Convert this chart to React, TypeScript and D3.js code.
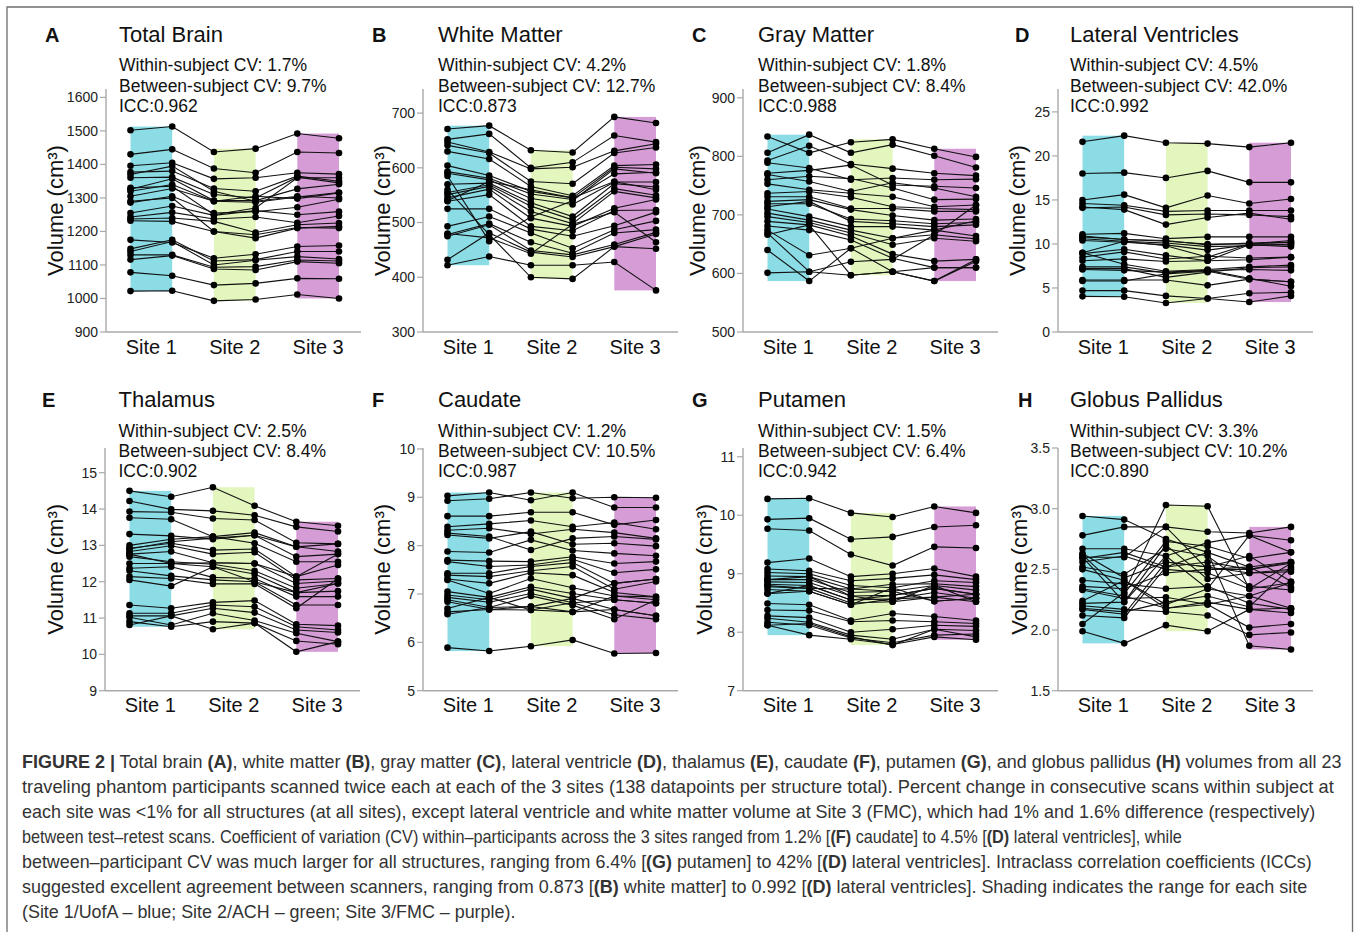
import React from "react";
import * as d3 from "d3";

// ---------- data (23 participants x 6 scans: Site1 A/B, Site2 A/B, Site3 A/B) ----------
const siteNames = ["Site 1", "Site 2", "Site 3"];

const totalBrain = [
  [1502, 1513, 1437, 1447, 1492, 1478],
  [1430, 1445, 1388, 1375, 1437, 1434],
  [1396, 1405, 1357, 1360, 1375, 1371],
  [1377, 1380, 1328, 1320, 1365, 1350],
  [1360, 1362, 1310, 1300, 1362, 1345],
  [1326, 1357, 1292, 1292, 1327, 1341],
  [1320, 1340, 1290, 1287, 1303, 1316],
  [1305, 1328, 1290, 1305, 1298, 1315],
  [1286, 1305, 1255, 1259, 1272, 1296],
  [1255, 1276, 1248, 1262, 1250, 1259],
  [1243, 1257, 1237, 1243, 1226, 1246],
  [1237, 1240, 1230, 1197, 1220, 1225],
  [1232, 1230, 1200, 1190, 1212, 1210],
  [1175, 1167, 1120, 1132, 1155, 1158],
  [1148, 1175, 1112, 1116, 1140, 1140],
  [1140, 1170, 1100, 1114, 1125, 1118],
  [1130, 1130, 1093, 1095, 1115, 1112],
  [1116, 1128, 1088, 1085, 1110, 1105],
  [1078, 1068, 1040, 1045, 1060, 1059],
  [1022, 1023, 993, 997, 1012, 1000],
  [1290, 1300, 1200, 1180, 1210, 1215],
  [1370, 1395, 1320, 1290, 1305, 1300],
  [1330, 1335, 1250, 1270, 1360, 1360],
];

const whiteMatter = [
  [671, 677, 632, 628, 693, 682],
  [652, 662, 600, 610, 659, 647],
  [647, 629, 598, 601, 631, 644],
  [641, 627, 575, 571, 627, 637],
  [630, 616, 566, 549, 604, 606],
  [604, 586, 557, 545, 601, 598],
  [593, 581, 552, 542, 589, 592],
  [590, 578, 544, 533, 574, 574],
  [570, 572, 536, 511, 571, 565],
  [555, 569, 530, 505, 562, 550],
  [551, 566, 520, 498, 557, 545],
  [545, 561, 508, 493, 526, 542],
  [539, 551, 493, 485, 522, 523],
  [525, 525, 488, 475, 494, 519],
  [493, 511, 481, 453, 487, 503],
  [478, 498, 464, 444, 481, 487],
  [475, 496, 449, 441, 460, 482],
  [432, 481, 446, 437, 456, 479],
  [422, 438, 422, 422, 428, 376],
  [480, 472, 443, 497, 519, 464],
  [560, 478, 400, 397, 456, 452],
  [585, 466, 510, 540, 598, 590],
  [540, 575, 560, 545, 575, 560],
];

const grayMatter = [
  [834, 806, 824, 829, 813, 799],
  [806, 837, 806, 820, 801, 781],
  [793, 818, 787, 779, 771, 767],
  [789, 780, 760, 763, 760, 761],
  [771, 776, 785, 751, 749, 746],
  [769, 757, 740, 755, 746, 731],
  [760, 766, 762, 746, 726, 727],
  [753, 743, 737, 731, 714, 717],
  [737, 740, 730, 714, 711, 709],
  [731, 731, 711, 711, 706, 706],
  [723, 726, 709, 699, 691, 693],
  [719, 719, 693, 690, 685, 687],
  [714, 723, 689, 685, 680, 683],
  [710, 697, 680, 680, 674, 664],
  [703, 691, 674, 660, 666, 659],
  [697, 687, 669, 649, 660, 655],
  [689, 683, 664, 633, 621, 624],
  [681, 674, 657, 626, 610, 610],
  [674, 631, 643, 603, 587, 621],
  [669, 603, 620, 624, 666, 717],
  [666, 683, 597, 603, 610, 610],
  [640, 587, 643, 660, 674, 690],
  [601, 603, 597, 603, 587, 624],
];

const lateralVentricles = [
  [21.6, 22.3, 21.5, 21.4, 21.0, 21.5],
  [18.0, 18.1, 17.5, 18.3, 17.0, 17.0],
  [15.0, 15.6, 14.1, 15.5, 14.6, 15.1],
  [14.6, 14.4, 13.7, 13.8, 13.8, 13.8],
  [14.1, 14.2, 13.3, 13.4, 13.3, 13.1],
  [14.2, 13.9, 12.2, 13.0, 13.5, 12.8],
  [11.1, 11.2, 10.6, 10.8, 10.8, 10.8],
  [10.8, 10.5, 10.3, 10.0, 10.0, 10.4],
  [10.6, 10.3, 10.1, 9.7, 9.8, 10.0],
  [10.4, 10.2, 9.9, 9.3, 9.9, 9.7],
  [9.0, 10.3, 9.8, 8.5, 10.0, 10.2],
  [8.9, 9.4, 8.7, 8.1, 9.9, 9.9],
  [8.5, 9.1, 8.3, 8.6, 8.4, 8.5],
  [8.1, 8.3, 8.0, 8.1, 8.2, 8.5],
  [9.0, 7.7, 6.9, 7.1, 7.4, 7.6],
  [7.4, 7.4, 6.7, 7.0, 7.1, 7.0],
  [7.2, 7.2, 6.2, 6.8, 7.3, 7.4],
  [7.1, 7.0, 6.8, 7.0, 6.1, 5.2],
  [5.9, 5.9, 5.9, 5.3, 6.0, 5.7],
  [4.7, 4.7, 4.1, 3.8, 4.4, 4.5],
  [4.05, 4.0, 3.3, 3.8, 3.4, 4.1],
  [10.9, 10.5, 10.4, 9.9, 10.1, 10.2],
  [5.8, 5.8, 6.6, 6.9, 6.0, 5.7],
];

const thalamus = [
  [14.5, 14.34, 14.6, 14.09, 13.65, 13.54],
  [14.22, 13.99, 13.95, 13.83, 13.51, 13.38],
  [13.93, 13.91, 13.74, 13.7, 13.07, 13.04],
  [13.76, 13.72, 13.24, 13.35, 12.96, 12.83],
  [13.31, 13.26, 13.17, 13.28, 12.69, 12.76],
  [13.0, 13.17, 13.24, 13.06, 12.55, 12.55],
  [12.92, 13.06, 12.87, 12.9, 12.14, 12.46],
  [12.83, 12.99, 12.76, 12.81, 12.05, 12.09],
  [12.76, 12.83, 12.52, 12.5, 11.95, 12.02],
  [12.69, 12.55, 12.48, 12.3, 11.82, 11.95],
  [12.5, 12.5, 12.41, 12.21, 11.7, 11.74],
  [12.37, 12.41, 12.12, 12.09, 11.59, 11.59],
  [12.3, 12.16, 12.05, 12.0, 11.36, 11.36],
  [12.14, 12.09, 11.94, 11.94, 11.27, 12.09],
  [12.05, 11.88, 12.41, 12.0, 11.7, 11.95],
  [11.36, 11.27, 11.43, 11.48, 10.83, 10.79],
  [11.13, 11.13, 11.36, 11.31, 10.76, 10.67],
  [11.06, 11.06, 11.27, 11.15, 10.67, 10.6],
  [11.02, 10.81, 11.13, 10.93, 10.58, 10.35],
  [10.9, 10.76, 10.9, 10.86, 10.37, 10.28],
  [10.81, 11.06, 10.69, 10.86, 10.07, 10.35],
  [12.76, 12.5, 12.52, 12.5, 12.14, 12.76],
  [12.9, 13.1, 13.2, 13.28, 12.96, 13.04],
];

const caudate = [
  [9.03, 9.1, 8.94, 9.1, 8.79, 8.79],
  [8.93, 8.97, 9.1, 8.98, 9.0, 8.99],
  [8.61, 8.61, 8.69, 8.69, 8.43, 8.53],
  [8.39, 8.45, 8.52, 8.39, 8.48, 8.34],
  [8.32, 8.36, 8.24, 8.34, 8.27, 8.15],
  [8.26, 8.19, 7.91, 8.15, 8.19, 8.13],
  [8.22, 8.15, 8.29, 8.03, 8.05, 7.99],
  [7.88, 7.86, 8.12, 7.9, 7.84, 7.79],
  [7.7, 7.68, 7.67, 7.77, 7.63, 7.67],
  [7.67, 7.57, 7.6, 7.72, 7.44, 7.51],
  [7.43, 7.43, 7.57, 7.65, 7.22, 7.31],
  [7.39, 7.36, 7.48, 7.57, 7.1, 7.26],
  [7.31, 7.22, 7.44, 7.39, 7.03, 6.94],
  [7.29, 7.01, 7.32, 7.13, 6.96, 6.88],
  [7.05, 6.93, 7.15, 7.01, 6.88, 6.81],
  [6.98, 6.88, 7.1, 6.91, 6.68, 6.55],
  [6.93, 6.83, 7.01, 6.82, 6.57, 6.48],
  [6.88, 6.72, 6.96, 6.77, 6.48, 6.88],
  [6.84, 6.68, 6.74, 6.63, 6.96, 6.94],
  [6.7, 6.93, 6.67, 6.82, 6.88, 6.81],
  [6.63, 6.68, 6.67, 6.63, 6.68, 6.55],
  [6.58, 6.72, 6.74, 6.91, 7.22, 7.31],
  [5.89, 5.82, 5.92, 6.05, 5.77, 5.78],
];

const putamen = [
  [10.28, 10.29, 10.04, 9.97, 10.15, 10.04],
  [9.93, 9.95, 9.59, 9.63, 9.8, 9.83],
  [9.77, 9.74, 9.33, 9.14, 9.46, 9.44],
  [9.19, 9.26, 8.95, 9.0, 9.09, 8.95],
  [9.08, 9.05, 8.88, 8.92, 8.98, 8.9],
  [9.02, 9.0, 8.8, 8.76, 8.88, 8.85],
  [8.96, 8.95, 8.74, 8.82, 8.83, 8.78],
  [8.9, 8.9, 8.68, 8.7, 8.8, 8.72],
  [8.86, 8.85, 8.62, 8.63, 8.75, 8.65],
  [8.82, 8.8, 8.55, 8.57, 8.68, 8.58],
  [8.78, 8.75, 8.5, 8.52, 8.6, 8.52],
  [8.73, 8.7, 8.47, 8.76, 8.53, 8.58],
  [8.66, 8.8, 8.55, 8.63, 8.75, 8.65],
  [8.49, 8.47, 8.2, 8.32, 8.27, 8.2],
  [8.38, 8.37, 8.18, 8.2, 8.18, 8.15],
  [8.28, 8.25, 8.0, 8.05, 8.12, 8.1],
  [8.24, 8.17, 7.95, 7.88, 8.05, 8.03],
  [8.17, 8.12, 7.9, 7.82, 7.95, 7.97],
  [8.12, 7.95, 7.88, 7.79, 7.92, 7.87],
  [8.12, 8.15, 7.92, 7.78, 8.05, 7.92],
  [8.9, 8.95, 8.62, 8.52, 8.8, 8.52],
  [8.8, 8.75, 8.74, 8.7, 8.53, 8.58],
  [8.66, 8.7, 8.47, 8.57, 8.6, 8.65],
];

const globusPallidus = [
  [2.94, 2.91, 2.75, 2.64, 2.52, 2.35],
  [2.78, 2.85, 2.85, 2.81, 2.8, 2.85],
  [2.67, 2.67, 2.61, 2.72, 2.78, 2.74],
  [2.63, 2.43, 2.56, 2.52, 2.47, 2.48],
  [2.62, 2.3, 2.73, 2.69, 2.59, 2.64],
  [2.59, 2.64, 2.52, 2.56, 2.5, 2.55],
  [2.56, 2.61, 2.5, 2.47, 2.34, 2.39],
  [2.52, 2.46, 2.67, 2.61, 2.36, 2.33],
  [2.5, 2.41, 2.21, 2.34, 2.28, 2.18],
  [2.41, 2.38, 2.34, 2.36, 2.22, 2.17],
  [2.36, 2.34, 2.47, 2.5, 2.5, 2.56],
  [2.34, 2.28, 2.18, 2.23, 2.17, 2.14],
  [2.33, 2.26, 2.27, 2.21, 2.02, 2.05],
  [2.22, 2.23, 2.7, 2.42, 2.47, 2.5],
  [2.2, 2.17, 2.15, 2.12, 1.96, 1.98],
  [2.18, 2.15, 2.23, 2.28, 2.19, 2.52],
  [2.17, 2.13, 2.56, 2.52, 2.61, 2.4],
  [2.12, 2.1, 2.52, 2.64, 1.87, 1.84],
  [2.05, 2.31, 3.03, 3.02, 2.34, 2.55],
  [1.99, 1.89, 2.04, 1.99, 2.17, 2.18],
  [2.6, 2.6, 2.85, 2.5, 2.52, 2.56],
  [2.24, 2.41, 2.18, 2.21, 2.28, 2.39],
  [2.6, 2.23, 2.61, 2.34, 2.78, 2.64],
];

// ---------- panel definitions ----------
const panelLetters = ["A", "B", "C", "D", "E", "F", "G", "H"];
const panelTitles = ["Total Brain", "White Matter", "Gray Matter", "Lateral Ventricles", "Thalamus", "Caudate", "Putamen", "Globus Pallidus"];
const withinCV = ["1.7%", "4.2%", "1.8%", "4.5%", "2.5%", "1.2%", "1.5%", "3.3%"];
const betweenCV = ["9.7%", "12.7%", "8.4%", "42.0%", "8.4%", "10.5%", "6.4%", "10.2%"];
const iccValues = ["0.962", "0.873", "0.988", "0.992", "0.902", "0.987", "0.942", "0.890"];
const panelData = [totalBrain, whiteMatter, grayMatter, lateralVentricles, thalamus, caudate, putamen, globusPallidus];
const tickMin = [900, 300, 500, 0, 9, 5, 7, 1.5];
const tickMax = [1600, 700, 900, 25, 15, 10, 11, 3.5];
const tickStep = [100, 100, 100, 5, 1, 1, 1, 0.5];
const tickFormat = ["d", "d", "d", "d", "d", "d", "d", ".1f"];
const axisTopValue = [1625, 744, 915, 27.6, 15.68, 10.02, 11.15, 3.5];

// ---------- layout ----------
const panelLayout = [
  { ax: 106, letterX: 45, titleX: 119, ylabX: 63, row: 0 },
  { ax: 423, letterX: 372, titleX: 438, ylabX: 390, row: 0 },
  { ax: 743, letterX: 692, titleX: 758, ylabX: 705, row: 0 },
  { ax: 1058, letterX: 1015, titleX: 1070, ylabX: 1025, row: 0 },
  { ax: 105, letterX: 42, titleX: 118.5, ylabX: 63, row: 1 },
  { ax: 423, letterX: 372, titleX: 438, ylabX: 390, row: 1 },
  { ax: 743, letterX: 692, titleX: 758, ylabX: 712, row: 1 },
  { ax: 1058, letterX: 1018, titleX: 1070, ylabX: 1027, row: 1 },
];
const rowLayout = [
  { bottom: 332, top: 89, title: 41.7, stats: [70.7, 92.3, 112.3] },
  { bottom: 690.7, top: 448, title: 406.7, stats: [436.7, 457, 477.3] },
];
const siteColors = ["#8bdce5", "#e2f6be", "#d59cd5"];
const FONT = "'Liberation Sans', Arial, Helvetica, sans-serif";

type Seg = [string, boolean];
const captionLines: Seg[][] = [
  [["FIGURE 2 |", true], [" Total brain ", false], ["(A)", true], [", white matter ", false], ["(B)", true], [", gray matter ", false], ["(C)", true], [", lateral ventricle ", false], ["(D)", true], [", thalamus ", false], ["(E)", true], [", caudate ", false], ["(F)", true], [", putamen ", false], ["(G)", true], [", and globus pallidus ", false], ["(H)", true], [" volumes from all 23", false]],
  [["traveling phantom participants scanned twice each at each of the 3 sites (138 datapoints per structure total). Percent change in consecutive scans within subject at", false]],
  [["each site was <1% for all structures (at all sites), except lateral ventricle and white matter volume at Site 3 (FMC), which had 1% and 1.6% difference (respectively)", false]],
  [["between test–retest scans. Coefficient of variation (CV) within–participants across the 3 sites ranged from 1.2% [", false], ["(F)", true], [" caudate] to 4.5% [", false], ["(D)", true], [" lateral ventricles], while", false]],
  [["between–participant CV was much larger for all structures, ranging from 6.4% [", false], ["(G)", true], [" putamen] to 42% [", false], ["(D)", true], [" lateral ventricles]. Intraclass correlation coefficients (ICCs)", false]],
  [["suggested excellent agreement between scanners, ranging from 0.873 [", false], ["(B)", true], [" white matter] to 0.992 [", false], ["(D)", true], [" lateral ventricles]. Shading indicates the range for each site", false]],
  [["(Site 1/UofA – blue; Site 2/ACH – green; Site 3/FMC – purple).", false]],
];
const captionEnds = [1342, 1335, 1316, 1183, 1312, 1308, 516];
const captionX = 22;
const captionTop = 768;
const captionStep = 25;

function CaptionLine({ segs, y, end }: { segs: Seg[]; y: number; end: number }) {
  const ref = React.useRef<SVGTextElement>(null);
  const [sx, setSx] = React.useState(1);
  React.useLayoutEffect(() => {
    if (ref.current) {
      const w = ref.current.getComputedTextLength();
      if (w > 0) setSx((end - captionX) / w);
    }
  }, [end]);
  return (
    <text ref={ref} transform={`translate(${captionX},${y}) scale(${sx},1)`} fontSize={18} fill="#333">
      {segs.map(([t, b], k) => (
        <tspan key={k} fontWeight={b ? "bold" : undefined}>{t}</tspan>
      ))}
    </text>
  );
}

function Panel({ i }: { i: number }) {
  const l = panelLayout[i];
  const r = rowLayout[l.row];
  const data = panelData[i];
  const y = d3.scaleLinear().domain([tickMin[i], axisTopValue[i]]).range([r.bottom, r.top]);
  const x = d3.scaleLinear().domain([0, 5]).range([l.ax + 24.5, l.ax + 233]);
  const line = d3.line<number>().x((_, j) => x(j)).y((v) => y(v));
  const ticks = d3.range(tickMin[i], tickMax[i] + tickStep[i] / 2, tickStep[i]);
  const fmt = d3.format(tickFormat[i]);
  const midY = (r.top + r.bottom) / 2;
  return (
    <g>
      {[0, 1, 2].map((k) => {
        const vals = data.flatMap((row) => [row[2 * k], row[2 * k + 1]]);
        const [lo, hi] = d3.extent(vals) as [number, number];
        return <rect key={k} x={x(2 * k)} width={x(2 * k + 1) - x(2 * k)} y={y(hi)} height={y(lo) - y(hi)} fill={siteColors[k]} />;
      })}
      <line x1={l.ax} x2={l.ax} y1={r.top} y2={r.bottom} stroke="#a9a9a9" strokeWidth={1.4} />
      <line x1={l.ax} x2={l.ax + 255} y1={r.bottom} y2={r.bottom} stroke="#a9a9a9" strokeWidth={1.4} />
      {ticks.map((t) => (
        <g key={t}>
          <line x1={l.ax - 6} x2={l.ax} y1={y(t)} y2={y(t)} stroke="#a9a9a9" strokeWidth={1.2} />
          <text x={l.ax - 8} y={y(t)} dy="0.35em" textAnchor="end" fontSize={14} fill="#222">{fmt(t)}</text>
        </g>
      ))}
      {siteNames.map((s, k) => (
        <text key={s} x={(x(2 * k) + x(2 * k + 1)) / 2} y={r.bottom + 21.5} textAnchor="middle" fontSize={20} fill="#111">{s}</text>
      ))}
      <text transform={`translate(${l.ylabX},${midY}) rotate(-90)`} textAnchor="middle" fontSize={22} fill="#111">Volume (cm³)</text>
      {data.map((row, j) => (
        <path key={j} d={line(row) || ""} fill="none" stroke="#111" strokeWidth={1.1} />
      ))}
      {data.map((row, j) => row.map((v, k) => <circle key={`${j}-${k}`} cx={x(k)} cy={y(v)} r={3.3} fill="#000" />))}
      <text x={l.letterX} y={r.title} fontSize={20} fontWeight="bold" fill="#111">{panelLetters[i]}</text>
      <text x={l.titleX} y={r.title} fontSize={22} fill="#111">{panelTitles[i]}</text>
      <text x={l.titleX} y={r.stats[0]} fontSize={17.5} fill="#111">Within-subject CV: {withinCV[i]}</text>
      <text x={l.titleX} y={r.stats[1]} fontSize={17.5} fill="#111">Between-subject CV: {betweenCV[i]}</text>
      <text x={l.titleX} y={r.stats[2]} fontSize={17.5} fill="#111">ICC:{iccValues[i]}</text>
    </g>
  );
}

export default function App() {
  const W = 1357, H = 932;
  return (
    <svg width={W} height={H} style={{ position: "absolute", left: 0, top: 0 }} fontFamily={FONT}>
      <rect x={0} y={0} width={W} height={H} fill="#fff" />
      <path d={`M7,${H} V7 H1352.5 V${H}`} fill="none" stroke="#6e6e6e" strokeWidth={1.3} />
      {panelLetters.map((_, i) => <Panel key={i} i={i} />)}
      {captionLines.map((segs, i) => (
        <CaptionLine key={i} segs={segs} y={captionTop + i * captionStep} end={captionEnds[i]} />
      ))}
    </svg>
  );
}
